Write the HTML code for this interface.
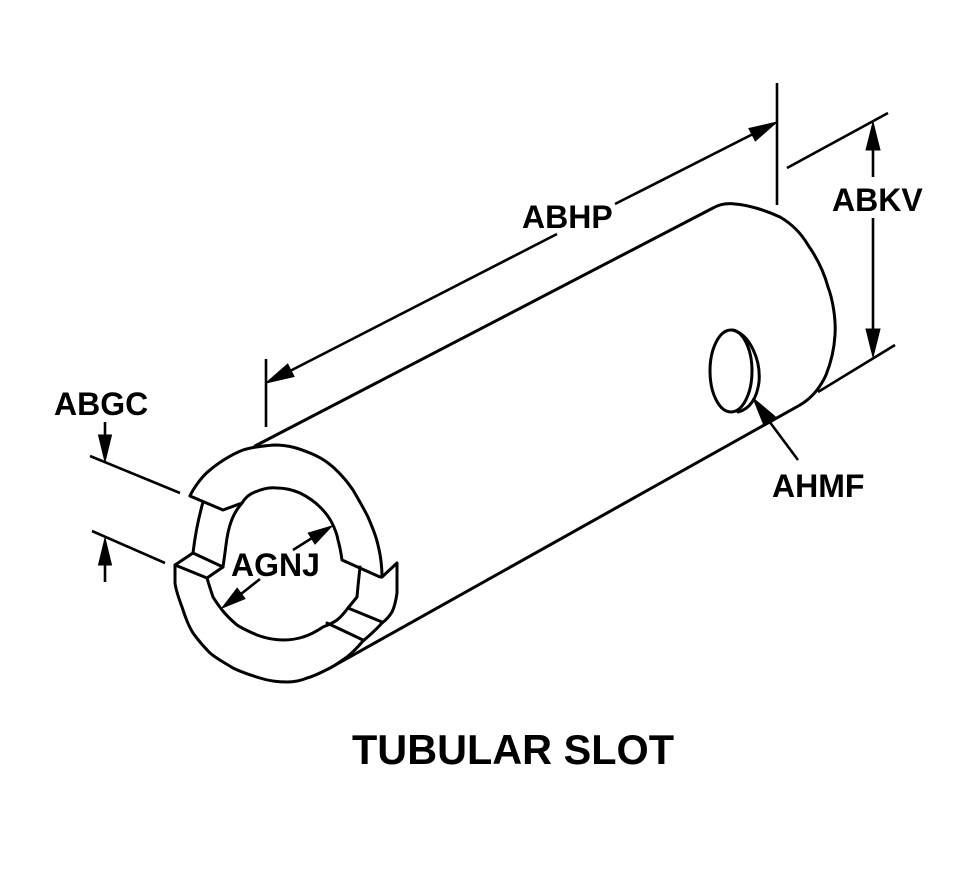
<!DOCTYPE html>
<html>
<head>
<meta charset="utf-8">
<style>
  html, body { margin: 0; padding: 0; background: #fff; }
  svg { display: block; }
  text { font-family: "Liberation Sans", Arial, sans-serif; font-weight: bold; fill: #000; }
</style>
</head>
<body>
<svg width="966" height="880" viewBox="0 0 966 880" xmlns="http://www.w3.org/2000/svg">
  <g fill="none" stroke="#000" stroke-width="3" stroke-linejoin="round" stroke-linecap="round">
    <!-- cylinder top and bottom lines -->
    <line x1="255" y1="446" x2="713" y2="208"/>
    <line x1="330" y1="668" x2="800" y2="405"/>
    <!-- end ellipse -->
    <path d="M713,208 C720,204 727,203 735,204 C748,205 765,210 780,217 C792,224 801,233 808,245 C817,258 824,272 828,287 C833,300 836,320 835,335 C834,352 830,365 826,375 C820,388 812,398 800,405"/>
    <!-- hole -->
    <ellipse cx="731" cy="371" rx="21" ry="41"/>
    <path d="M733,330 C750,335 761,360 759,382 C757,398 750,409 738,412"/>

    <!-- front face: upper outer arc -->
    <path d="M190,496 C193,489 202,476 210,470 C217,464 230,455 243,450 C252,447 262,446 274,445 C290,445 300,449 310,453 C322,458 327,462 333,467 C343,476 348,483 353,490 C360,502 364,509 368,517 C373,529 376,536 378,545 C381,557 382,567 382,577"/>
    <!-- right notch and lower outer arc -->
    <path d="M382,577 L397,563 L397,593 C396,600 395,606 392,612 C389,617 386,620 382,623 C376,630 370,635 363,641 C357,648 352,653 347,657 C341,661 336,665 330,668 C322,672 315,676 307,678 C300,681 294,682 287,682 C278,682 269,681 260,678 C250,675 241,672 233,668 C225,663 217,659 210,653 C203,646 198,640 193,633 C188,625 185,616 182,607 C179,599 176,591 175,583 L175,565"/>
    <!-- left quad -->
    <path d="M175,565 L193,553 L223,567 L207,578 Z"/>
    <!-- left wall of upper half -->
    <path d="M193,553 Q196,527 203,502"/>
    <!-- upper cut bottom edge -->
    <path d="M190,496 L223,510 L242,503"/>
    <!-- inner upper arc -->
    <path d="M242,503 C245,498 249,494 255,492 C262,489 270,487 277,488 C286,488 293,490 300,493 C308,497 314,501 320,507 C325,512 329,517 332,523 C335,529 337,534 338,540 C340,547 341,553 342,560 L380,577"/>
    <!-- inner left of upper half -->
    <path d="M242,503 C236,510 233,516 231,522 C228,530 227,537 226,545 C225,553 224,560 223,567"/>
    <!-- inner lower arc -->
    <path d="M207,578 C209,585 211,591 213,597 C216,602 219,606 222,610 C227,616 231,620 237,625 C243,629 250,632 257,635 C265,638 274,640 283,640 C290,640 297,639 303,637 C310,635 317,631 323,627 C328,625 333,623 337,620 C341,617 345,612 348,608"/>
    <!-- right lower slot faces -->
    <path d="M360,567 L358,586 L357,597 L348,608 L382,622"/>
    <line x1="327" y1="623" x2="363" y2="640"/>
  </g>

  <!-- dimension lines -->
  <g fill="none" stroke="#000" stroke-width="2.6" stroke-linecap="butt">
    <!-- ABHP -->
    <line x1="266" y1="359" x2="266" y2="427"/>
    <line x1="777" y1="83" x2="777" y2="205"/>
    <line x1="290" y1="371" x2="557" y2="234"/>
    <line x1="615" y1="204" x2="753" y2="134"/>
    <!-- ABKV -->
    <line x1="787" y1="168" x2="888" y2="113"/>
    <line x1="818" y1="392" x2="895" y2="345"/>
    <line x1="873" y1="148" x2="873" y2="177"/>
    <line x1="873" y1="218" x2="873" y2="331"/>
    <!-- ABGC -->
    <line x1="90" y1="456" x2="180" y2="493"/>
    <line x1="92" y1="531" x2="165" y2="563"/>
    <line x1="105" y1="422" x2="105" y2="437"/>
    <line x1="105" y1="563" x2="105" y2="582"/>
    <!-- AGNJ -->
    <line x1="293" y1="550" x2="312" y2="538"/>
    <line x1="260" y1="579" x2="241" y2="594"/>
    <!-- AHMF -->
    <line x1="798" y1="460" x2="769" y2="421"/>
  </g>

  <!-- arrowheads -->
  <g fill="#000" stroke="#000" stroke-width="1" stroke-linejoin="miter">
    <polygon points="266,383 294.1,376.5 287.7,364.1"/>
    <polygon points="777,122 755.3,140.9 748.9,128.5"/>
    <polygon points="873,122 866,150 880,150"/>
    <polygon points="873,357 866,329 880,329"/>
    <polygon points="105,462 98.5,435 111.5,435"/>
    <polygon points="105,538 98.5,565 111.5,565"/>
    <polygon points="332,526 315,544.1 308.2,533.1"/>
    <polygon points="222,608 245,598.6 237.2,588.2"/>
    <polygon points="753,398 775.1,416.6 763.7,424.8"/>
  </g>

  <!-- labels -->
  <text x="522" y="228" font-size="32">ABHP</text>
  <text x="832" y="211" font-size="32">ABKV</text>
  <text x="54" y="415" font-size="32">ABGC</text>
  <text x="231" y="576" font-size="32">AGNJ</text>
  <text x="772" y="497" font-size="32">AHMF</text>
  <text x="352" y="764" font-size="42" textLength="322" lengthAdjust="spacingAndGlyphs">TUBULAR SLOT</text>
</svg>
</body>
</html>
